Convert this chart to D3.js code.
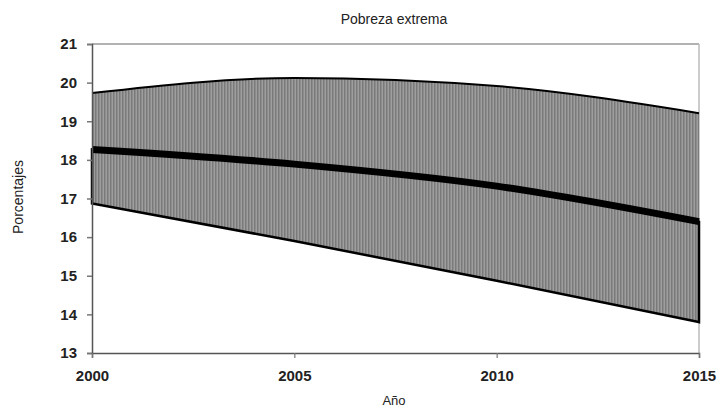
<!DOCTYPE html>
<html>
<head>
  <script src="https://d3js.org/d3.v7.min.js"></script>
  <style>
    body { margin: 0; background: #fff; }
    text { font-family: "Liberation Sans", Arial, sans-serif; fill: #222; }
  </style>
</head>
<body>
  <div id="chart_div"></div>

  <script>
    // data
    var years = [2000, 2005, 2010, 2015];
    var upper = [19.73, 20.12, 19.91, 19.21];
    var center = [18.27, 17.89, 17.32, 16.40];
    var lower = [16.87, 15.90, 14.87, 13.80];
    var yTicks = [13, 14, 15, 16, 17, 18, 19, 20, 21];
    var xTicks = [2000, 2005, 2010, 2015];

    var W = 720, H = 407;
    var margin = { top: 44, right: 21, bottom: 54, left: 92 };
    var width = W - margin.left - margin.right;
    var height = H - margin.top - margin.bottom;

    var svg = d3.select("#chart_div")
      .append("svg")
      .attr("width", W)
      .attr("height", H);

    // vertical stripe fill
    var defs = svg.append("defs");
    var pat = defs.append("pattern")
      .attr("id", "stripes")
      .attr("patternUnits", "userSpaceOnUse")
      .attr("width", 3)
      .attr("height", 10);
    pat.append("rect").attr("width", 3).attr("height", 10).attr("fill", "#9e9e9e");
    pat.append("rect").attr("width", 1.5).attr("height", 10).attr("fill", "#7a7a7a");

    var g = svg.append("g")
      .attr("transform", "translate(" + margin.left + "," + margin.top + ")");

    var x = d3.scaleLinear().domain([2000, 2015]).range([0, width]);
    var y = d3.scaleLinear().domain([13, 21]).range([height, 0]);

    var rows = years.map(function(d, i) {
      return { year: d, up: upper[i], mid: center[i], lo: lower[i] };
    });

    var curve = d3.curveMonotoneX;

    // frame (top and right in light gray)
    g.append("line").attr("x1", 0).attr("x2", width).attr("y1", 0).attr("y2", 0)
      .attr("stroke", "#999").attr("stroke-width", 1.5);
    g.append("line").attr("x1", width).attr("x2", width).attr("y1", 0).attr("y2", height)
      .attr("stroke", "#bbb").attr("stroke-width", 1.5);

    // band upper part
    g.append("path")
      .datum(rows)
      .attr("d", d3.area().curve(curve)
        .x(function(d) { return x(d.year); })
        .y0(function(d) { return y(d.mid); })
        .y1(function(d) { return y(d.up); }))
      .attr("fill", "url(#stripes)");

    // band lower part, outlined
    g.append("path")
      .datum(rows)
      .attr("d", d3.area().curve(curve)
        .x(function(d) { return x(d.year); })
        .y0(function(d) { return y(d.lo); })
        .y1(function(d) { return y(d.mid); }))
      .attr("fill", "url(#stripes)")
      .attr("stroke", "#000")
      .attr("stroke-width", 2.5);

    // upper edge
    g.append("path")
      .datum(rows)
      .attr("d", d3.line().curve(curve)
        .x(function(d) { return x(d.year); })
        .y(function(d) { return y(d.up); }))
      .attr("fill", "none")
      .attr("stroke", "#000")
      .attr("stroke-width", 2);

    // center line
    g.append("path")
      .datum(rows)
      .attr("d", d3.line().curve(curve)
        .x(function(d) { return x(d.year); })
        .y(function(d) { return y(d.mid); }))
      .attr("fill", "none")
      .attr("stroke", "#000")
      .attr("stroke-width", 7);

    // y axis
    var yAxis = g.append("g")
      .call(d3.axisLeft(y).tickValues(yTicks).tickSize(5).tickPadding(10).tickFormat(d3.format("d")));
    yAxis.select(".domain").attr("stroke", "#555").attr("stroke-width", 1.5);
    yAxis.selectAll(".tick line").attr("stroke", "#777").attr("stroke-width", 1.5);
    yAxis.selectAll("text")
      .style("font-size", "15px")
      .style("font-weight", "bold")
      .attr("fill", "#222");

    // x axis
    var xAxis = g.append("g")
      .attr("transform", "translate(0," + height + ")")
      .call(d3.axisBottom(x).tickValues(xTicks).tickSize(5).tickPadding(12).tickFormat(d3.format("d")));
    xAxis.select(".domain").attr("stroke", "#555").attr("stroke-width", 1.5);
    xAxis.selectAll(".tick line").attr("stroke", "#777").attr("stroke-width", 1.2);
    xAxis.selectAll("text")
      .style("font-size", "15px")
      .style("font-weight", "bold")
      .attr("fill", "#222");

    // title and axis titles
    svg.append("text")
      .attr("x", 394)
      .attr("y", 24)
      .attr("text-anchor", "middle")
      .style("font-size", "14px")
      .text("Pobreza extrema");

    svg.append("text")
      .attr("transform", "translate(23," + 197 + ") rotate(-90)")
      .attr("text-anchor", "middle")
      .style("font-size", "14px")
      .text("Porcentajes");

    svg.append("text")
      .attr("x", 394)
      .attr("y", 405)
      .attr("text-anchor", "middle")
      .style("font-size", "13px")
      .text("Año");
  </script>
</body>
</html>
